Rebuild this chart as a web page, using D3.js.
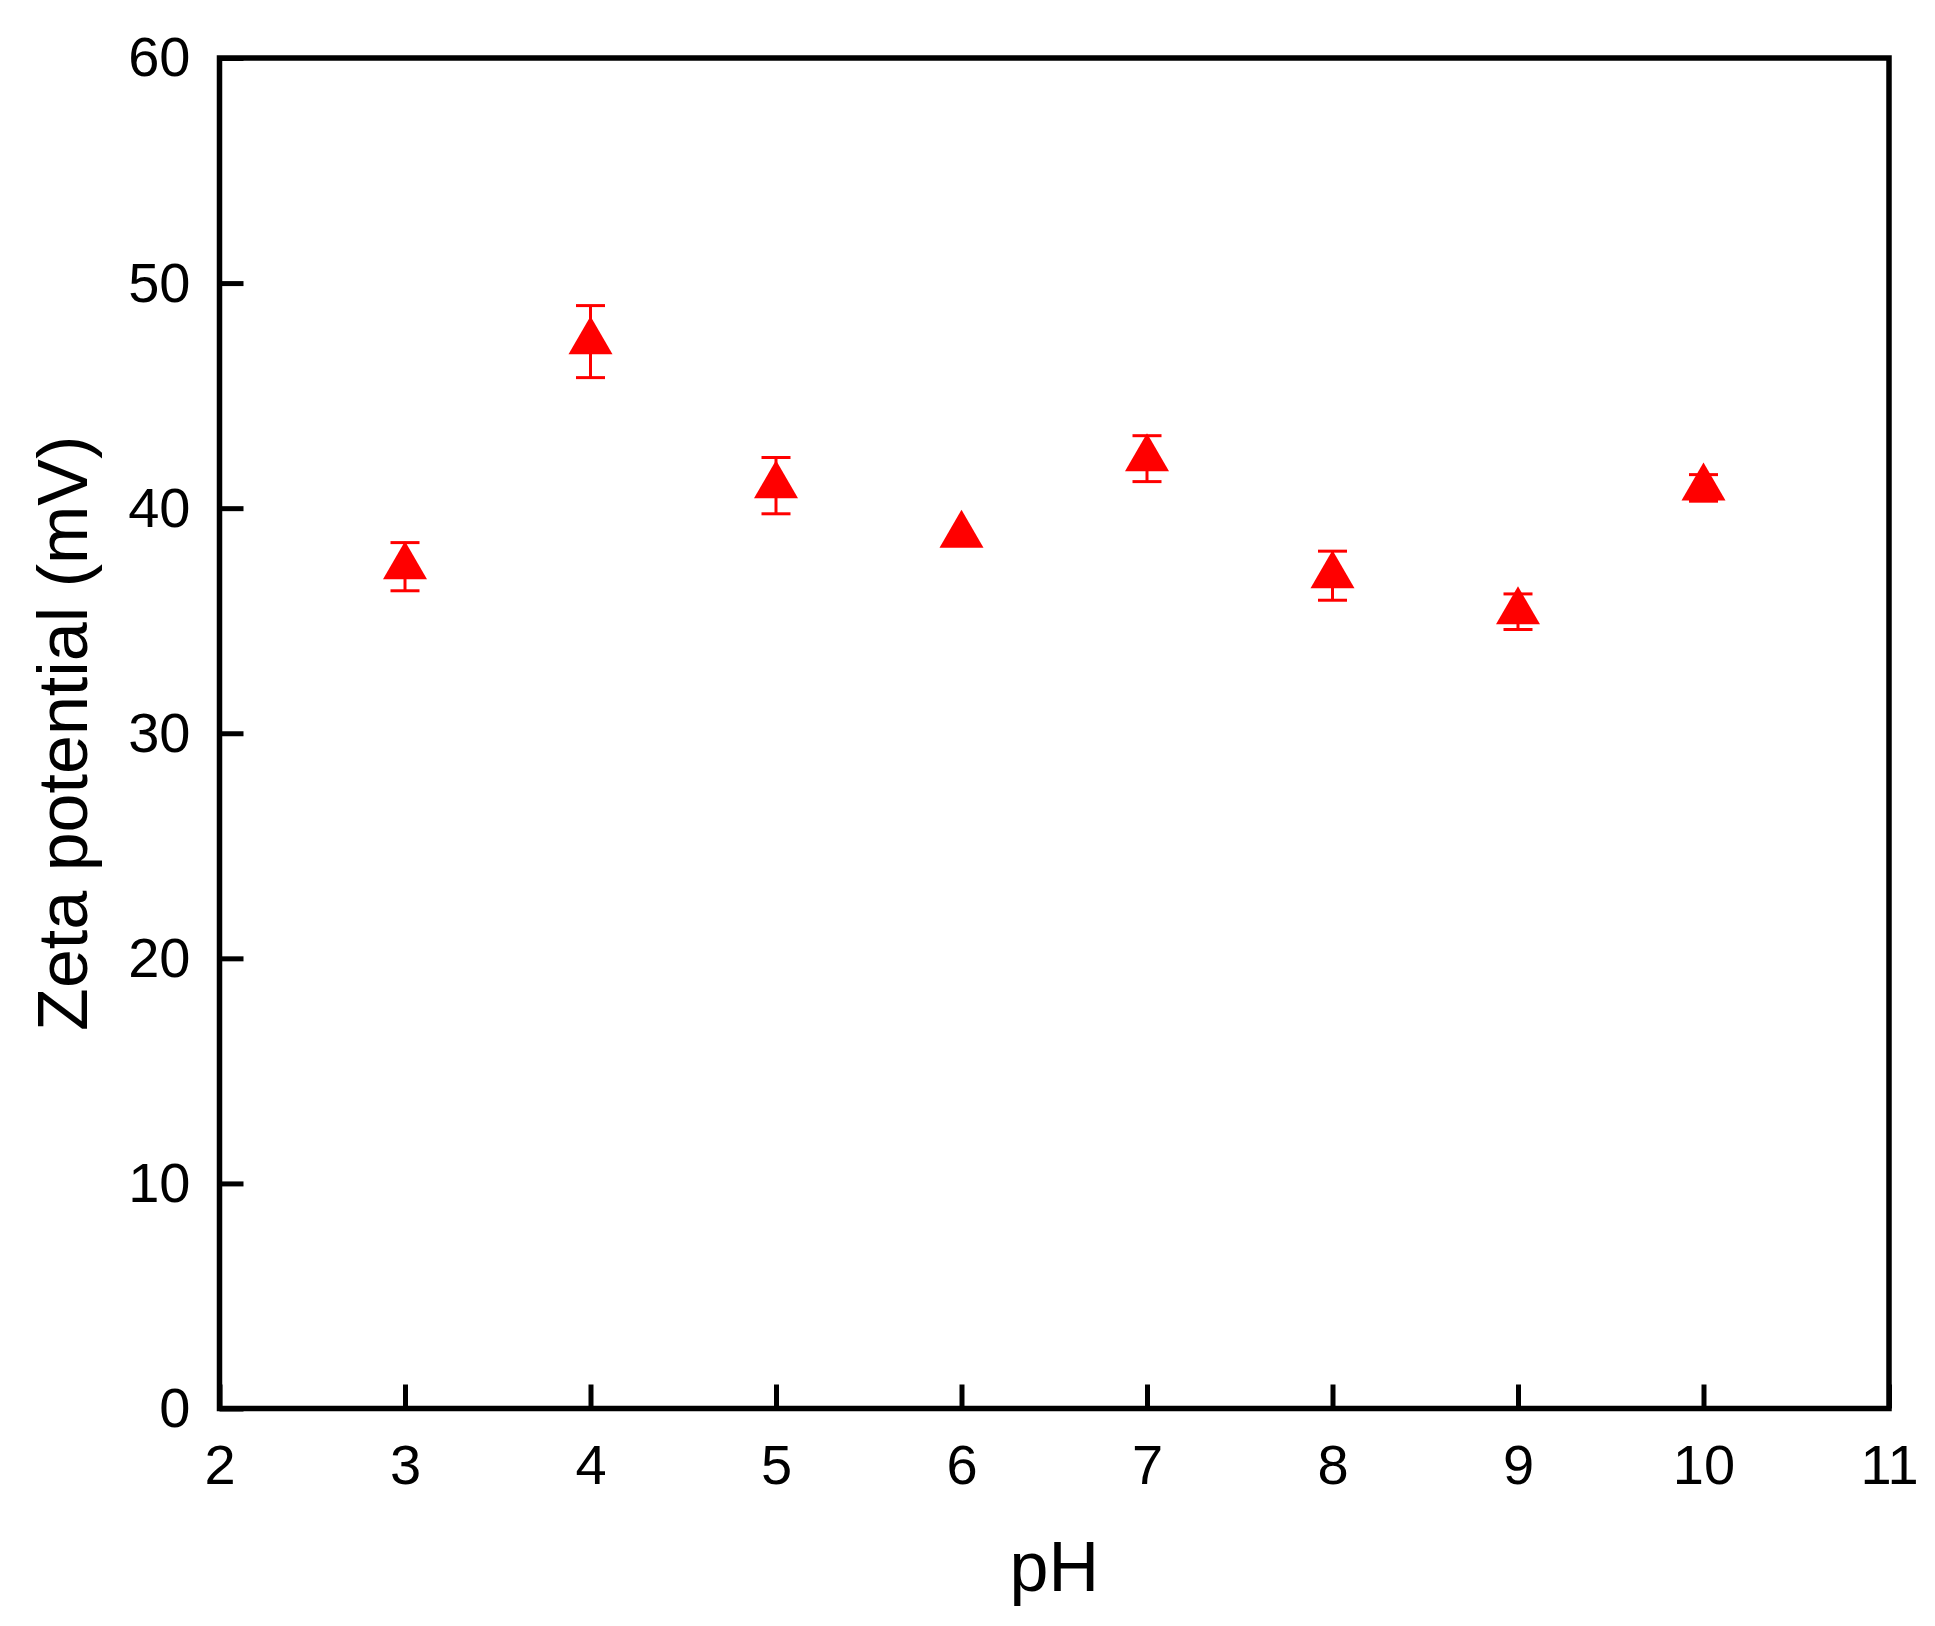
<!DOCTYPE html>
<html>
<head>
<meta charset="utf-8">
<script src="https://cdn.jsdelivr.net/npm/d3@7"></script>
<style>
  body { margin: 0; background: #fff; }
  text { font-family: "Liberation Sans", Arial, sans-serif; fill: #000; }
</style>
</head>
<body>
<div id="chart"></div>
<script>
// DATA
const phValues = [3, 4, 5, 6, 7, 8, 9, 10];
const zetaValues = [37.4, 47.4, 41.0, 38.8, 42.2, 37.0, 35.4, 40.9];
const zetaErrors = [1.07, 1.6, 1.25, 0, 1.02, 1.09, 0.79, 0.59];
const xTicks = [2, 3, 4, 5, 6, 7, 8, 9, 10, 11];
const yTicks = [0, 10, 20, 30, 40, 50, 60];

// SIZES
const width = 1935;
const height = 1626;
const margin = {top: 58, right: 46, bottom: 217.5, left: 219.5};
const tickLen = 24;
const triW = 44, triH = 38;
const capW = 29;

const svg = d3.select("#chart")
    .append("svg")
    .attr("width", width)
    .attr("height", height);

svg.append("rect")
    .attr("width", width)
    .attr("height", height)
    .attr("fill", "#fff");

const xScale = d3.scaleLinear()
    .domain([2, 11])
    .range([margin.left, width - margin.right]);

const yScale = d3.scaleLinear()
    .domain([0, 60])
    .range([height - margin.bottom, margin.top]);

// AXES (TICKS INSIDE, ONLY LEFT AND BOTTOM)
const xAxis = d3.axisBottom(xScale)
    .tickValues(xTicks)
    .tickSizeInner(-tickLen)
    .tickSizeOuter(0)
    .tickPadding(tickLen + 12)
    .tickFormat(d3.format("d"));

const yAxis = d3.axisLeft(yScale)
    .tickValues(yTicks)
    .tickSizeInner(-tickLen)
    .tickSizeOuter(0)
    .tickPadding(tickLen + 5)
    .tickFormat(d3.format("d"));

const gx = svg.append("g")
    .attr("class", "x axis")
    .attr("transform", "translate(0," + yScale(0) + ")")
    .call(xAxis);

const gy = svg.append("g")
    .attr("class", "y axis")
    .attr("transform", "translate(" + xScale(2) + ",0)")
    .call(yAxis);

[gx, gy].forEach(g => {
    g.select(".domain").remove();
    g.selectAll(".tick line").attr("stroke", "#000").attr("stroke-width", 5);
    g.selectAll(".tick text")
        .style("font-size", "56px")
        .style("font-family", "'Liberation Sans', Arial, sans-serif")
        .attr("fill", "#000");
});

// FRAME
svg.append("rect")
    .attr("x", xScale(2))
    .attr("y", yScale(60))
    .attr("width", xScale(11) - xScale(2))
    .attr("height", yScale(0) - yScale(60))
    .attr("fill", "none")
    .attr("stroke", "#000")
    .attr("stroke-width", 5.5);

// AXIS TITLES
svg.append("text")
    .attr("x", (xScale(2) + xScale(11)) / 2)
    .attr("y", 1591)
    .attr("text-anchor", "middle")
    .style("font-size", "70px")
    .text("pH");

svg.append("text")
    .attr("transform", "translate(87," + (yScale(0) + yScale(60)) / 2 + ") rotate(-90)")
    .attr("text-anchor", "middle")
    .style("font-size", "70px")
    .text("Zeta potential (mV)");

// POINTS
const points = phValues.map((p, i) => ({ph: p, z: zetaValues[i], err: zetaErrors[i]}));

const errGroup = svg.append("g").attr("class", "errors");
points.filter(d => d.err > 0).forEach(d => {
    const cx = xScale(d.ph);
    const yTop = yScale(d.z + d.err);
    const yBot = yScale(d.z - d.err);
    errGroup.append("line")
        .attr("x1", cx).attr("x2", cx)
        .attr("y1", yTop).attr("y2", yBot)
        .attr("stroke", "#ff0000").attr("stroke-width", 3);
    [yTop, yBot].forEach(yy => {
        errGroup.append("line")
            .attr("x1", cx - capW / 2).attr("x2", cx + capW / 2)
            .attr("y1", yy).attr("y2", yy)
            .attr("stroke", "#ff0000").attr("stroke-width", 3);
    });
});

svg.append("g")
    .attr("class", "markers")
    .selectAll("path")
    .data(points)
    .enter()
    .append("path")
    .attr("transform", d => "translate(" + xScale(d.ph) + "," + yScale(d.z) + ")")
    .attr("d", "M0," + (-triH * 2 / 3) + "L" + (triW / 2) + "," + (triH / 3) + "L" + (-triW / 2) + "," + (triH / 3) + "Z")
    .attr("fill", "#ff0000");
</script>
</body>
</html>
